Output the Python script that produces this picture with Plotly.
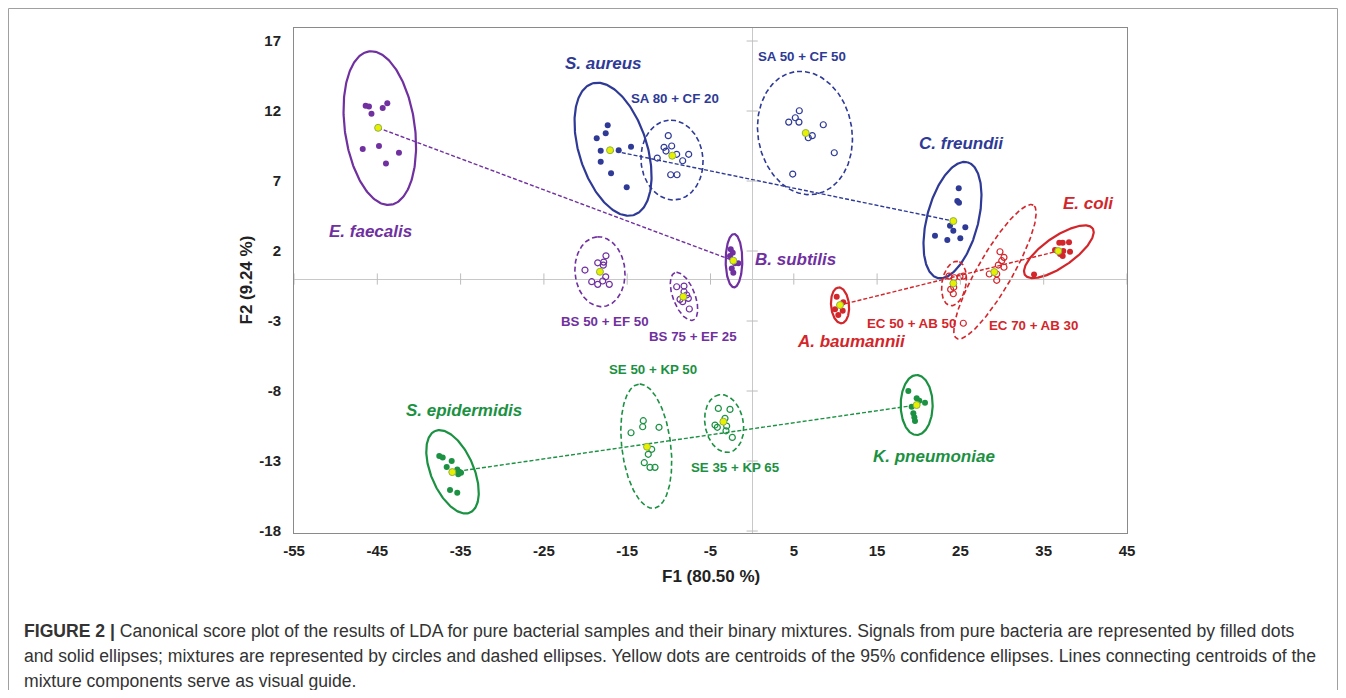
import numpy as np
import plotly.graph_objects as go

# ---------------- data ----------------
PURPLE = "#7030A0"
BLUE = "#2E3A96"
RED = "#D3262B"
GREEN = "#1B9142"
YELLOW = "#E6F000"

# pure bacteria (filled dots, solid ellipses)
EF_X = [-46.4, -46.0, -45.7, -44.35, -43.8, -46.75, -44.8, -42.4, -43.96]
EF_Y = [12.38, 12.33, 11.8, 12.21, 12.55, 9.29, 9.5, 9.02, 8.26]
EF_C = [-44.9, 10.8]
EF_E = [-44.7, 10.78, 9.3, 4.2, 98]

BS_X = [-2.57, -2.33, -2.66, -2.06, -1.66, -2.45, -2.26]
BS_Y = [2.12, 1.88, 1.64, 1.12, 1.12, 0.76, 0.45]
BS_C = [-2.26, 1.31]
BS_E = [-2.18, 1.31, 3.2, 1.0, 90]

SA_X = [-17.34, -17.58, -18.66, -18.18, -16.02, -14.54, -18.18, -16.94, -15.06]
SA_Y = [10.98, 10.41, 10.05, 9.16, 9.2, 9.45, 8.38, 7.55, 6.55]
SA_C = [-17.06, 9.2]
SA_E = [-16.7, 9.27, 8.28, 4.08, 107.6]

CF_X = [24.8, 24.63, 24.83, 23.75, 25.59, 24.15, 21.95, 23.43, 24.99]
CF_Y = [6.48, 5.57, 5.45, 3.81, 3.69, 3.45, 3.09, 2.79, 2.91]
CF_C = [24.15, 4.14]
CF_E = [24.05, 4.21, 7.17, 3.08, 75.5]

AB_X = [10.15, 10.94, 9.95, 10.87, 10.34]
AB_Y = [-1.26, -1.66, -2.16, -2.26, -2.57]
AB_C = [10.55, -1.86]
AB_E = [10.55, -1.88, 2.16, 1.08, 95]

EC_X = [36.87, 37.28, 38.04, 36.36, 37.35, 38.16, 36.96, 37.28, 33.84]
EC_Y = [2.59, 2.59, 2.62, 2.07, 2.0, 1.95, 1.79, 1.64, 0.33]
EC_C = [36.75, 2.0]
EC_E = [36.82, 1.95, 4.93, 1.8, 34.6]

SE_X = [-37.56, -37.15, -36.07, -36.67, -35.4, -35.16, -34.95, -35.28, -36.27, -35.4]
SE_Y = [-12.64, -12.74, -13.0, -13.43, -13.6, -13.76, -13.84, -13.95, -15.07, -15.26]
SE_C = [-36.0, -13.79]
SE_E = [-35.97, -13.77, 5.33, 2.57, 113]

KP_X = [18.75, 19.75, 20.07, 20.75, 19.15, 19.35, 19.47, 19.55]
KP_Y = [-8.0, -8.52, -8.69, -8.84, -9.12, -9.59, -9.88, -10.14]
KP_C = [19.75, -9.0]
KP_E = [19.75, -9.0, 3.6, 1.92, 90]

# binary mixtures (open circles, dashed ellipses)
BS50_X = [-17.55, -18.54, -17.82, -17.87, -20.07, -17.58, -19.26, -18.54, -17.94, -17.15]
BS50_Y = [1.66, 1.16, 1.21, 0.99, 0.64, 0.16, -0.19, -0.38, -0.14, -0.38]
BS50_C = [-18.27, 0.52]
BS50_E = [-18.27, 0.52, 4.2, 3.0, 95]

BS75_X = [-9.06, -8.18, -8.18, -7.86, -8.66, -7.66, -8.34, -7.54]
BS75_Y = [-0.55, -0.5, -0.91, -1.14, -1.45, -1.38, -1.62, -2.14]
BS75_C = [-8.27, -1.26]
BS75_E = [-8.18, -1.24, 3.05, 1.32, 111]

SA80_X = [-10.07, -9.66, -10.58, -10.34, -9.06, -11.39, -7.62, -8.34, -9.78, -9.02]
SA80_Y = [10.24, 9.5, 9.41, 9.14, 8.91, 8.64, 8.91, 8.45, 7.45, 7.45]
SA80_C = [-9.59, 8.81]
SA80_E = [-9.62, 8.5, 4.8, 3.72, 95]

SA50_X = [5.66, 5.18, 4.39, 5.62, 8.54, 6.74, 7.22, 9.86, 4.87]
SA50_Y = [12.02, 11.52, 11.21, 11.21, 11.02, 10.09, 10.24, 9.02, 7.5]
SA50_C = [6.43, 10.43]
SA50_E = [6.34, 10.43, 7.45, 5.64, 100]

EC70_X = [29.75, 30.23, 29.96, 29.55, 30.23, 28.47, 29.36, 29.36, 25.35]
EC70_Y = [1.95, 1.55, 1.31, 1.0, 0.84, 0.36, 0.36, -0.09, -3.16]
EC70_C = [29.07, 0.5]
EC70_E = [29.15, 0.52, 9.23, 2.1, 60.1]

EC50_X = [23.63, 24.27, 24.95, 25.35, 23.83, 24.2, 24.15]
EC50_Y = [0.21, 0.09, 0.16, 0.21, -0.74, -0.59, -1.05]
EC50_C = [24.15, -0.31]
EC50_E = [24.23, -0.32, 2.7, 1.44, 80]

SE50_X = [-13.07, -13.14, -14.54, -11.18, -12.06, -12.47, -12.95, -12.26, -11.66]
SE50_Y = [-10.12, -10.55, -10.98, -10.59, -12.16, -12.52, -13.12, -13.45, -13.45]
SE50_C = [-12.62, -11.98]
SE50_E = [-12.71, -11.94, 7.5, 2.94, 97]

SE35_X = [-4.06, -2.66, -3.26, -4.46, -4.18, -3.06, -3.14, -2.38]
SE35_Y = [-9.24, -9.31, -9.95, -10.43, -10.59, -10.5, -10.84, -11.31]
SE35_C = [-3.46, -10.19]
SE35_E = [-3.36, -10.32, 3.5, 2.3, 100]

# labels: text, x, y, italic-group-name?, colour
LABELS = [
    ("S. aureus", -17.8, 15.43, True, BLUE),
    ("SA 80 + CF 20", -9.26, 12.86, False, BLUE),
    ("SA 50 + CF 50", 5.98, 15.86, False, BLUE),
    ("C. freundii", 25.19, 9.71, True, BLUE),
    ("E. coli", 40.32, 5.43, True, RED),
    ("E. faecalis", -45.76, 3.43, True, PURPLE),
    ("B. subtilis", 5.26, 1.43, True, PURPLE),
    ("BS 50 + EF 50", -17.67, -3.0, False, PURPLE),
    ("BS 75 + EF 25", -7.1, -4.07, False, PURPLE),
    ("EC 50 + AB 50", 19.07, -3.21, False, RED),
    ("EC 70 + AB 30", 33.72, -3.29, False, RED),
    ("A. baumannii", 11.87, -4.43, True, RED),
    ("SE 50 + KP 50", -11.9, -6.43, False, GREEN),
    ("S. epidermidis", -34.6, -9.36, True, GREEN),
    ("SE 35 + KP 65", -1.94, -13.43, False, GREEN),
    ("K. pneumoniae", 21.83, -12.71, True, GREEN),
]

X_TICKS = [-55, -45, -35, -25, -15, -5, 5, 15, 25, 35, 45]
Y_TICKS = [17, 12, 7, 2, -3, -8, -13, -18]
X_RANGE = [-55, 45]
Y_RANGE = [-18.14, 17.93]
X_TITLE = "F1 (80.50 %)"
Y_TITLE = "F2 (9.24 %)"
CAPTION = [
    "<b>FIGURE 2 |</b> Canonical score plot of the results of LDA for pure bacterial samples and their binary mixtures. Signals from pure bacteria are represented by filled dots",
    "and solid ellipses; mixtures are represented by circles and dashed ellipses. Yellow dots are centroids of the 95% confidence ellipses. Lines connecting centroids of the",
    "mixture components serve as visual guide.",
]

# ---------------- layout geometry (page = figure + 8px body margin) ----------------
PAD = 8
W, H = 1346 - 2 * PAD, 698 - 2 * PAD
PW, PH = 833, 505
ML, MT = 294 - PAD, 28 - PAD
MR, MB = W - ML - PW, H - MT - PH
K = (PH / (Y_RANGE[1] - Y_RANGE[0])) / (PW / (X_RANGE[1] - X_RANGE[0]))


def px_x(page_x):
    return (page_x - PAD - ML) / PW


def px_y(page_y):
    return (MT + PH - (page_y - PAD)) / PH


def ellipse(cx, cy, a, b, ang):
    t = np.linspace(0, 2 * np.pi, 241)
    th = np.radians(ang)
    ex = cx + a * np.cos(th) * np.cos(t) - b * np.sin(th) * np.sin(t)
    ey = cy + (a * np.sin(th) * np.cos(t) + b * np.cos(th) * np.sin(t)) / K
    return ex, ey


fig = go.Figure()

# connecting dashed guide lines between pure-component centroids
for c1, c2, col in [(EF_C, BS_C, PURPLE), (SA_C, CF_C, BLUE), (AB_C, EC_C, RED), (SE_C, KP_C, GREEN)]:
    fig.add_trace(go.Scatter(x=[c1[0], c2[0]], y=[c1[1], c2[1]], mode="lines",
                             line=dict(color=col, width=1.4, dash="4px,2px"), hoverinfo="skip"))

groups = [
    (EF_X, EF_Y, EF_C, EF_E, PURPLE, True),
    (BS_X, BS_Y, BS_C, BS_E, PURPLE, True),
    (SA_X, SA_Y, SA_C, SA_E, BLUE, True),
    (CF_X, CF_Y, CF_C, CF_E, BLUE, True),
    (AB_X, AB_Y, AB_C, AB_E, RED, True),
    (EC_X, EC_Y, EC_C, EC_E, RED, True),
    (SE_X, SE_Y, SE_C, SE_E, GREEN, True),
    (KP_X, KP_Y, KP_C, KP_E, GREEN, True),
    (BS50_X, BS50_Y, BS50_C, BS50_E, PURPLE, False),
    (BS75_X, BS75_Y, BS75_C, BS75_E, PURPLE, False),
    (SA80_X, SA80_Y, SA80_C, SA80_E, BLUE, False),
    (SA50_X, SA50_Y, SA50_C, SA50_E, BLUE, False),
    (EC70_X, EC70_Y, EC70_C, EC70_E, RED, False),
    (EC50_X, EC50_Y, EC50_C, EC50_E, RED, False),
    (SE50_X, SE50_Y, SE50_C, SE50_E, GREEN, False),
    (SE35_X, SE35_Y, SE35_C, SE35_E, GREEN, False),
]

for gx, gy, gc, ge, col, pure in groups:
    ex, ey = ellipse(*ge)
    fig.add_trace(go.Scatter(x=ex, y=ey, mode="lines",
                             line=dict(color=col, width=2.2 if pure else 1.6,
                                       dash="solid" if pure else "5px,3px"),
                             hoverinfo="skip"))
    if pure:
        mk = dict(symbol="circle", size=6, color=col, line=dict(width=0))
    else:
        mk = dict(symbol="circle-open", size=6, color=col, line=dict(width=1.2))
    fig.add_trace(go.Scatter(x=gx, y=gy, mode="markers", marker=mk))
    fig.add_trace(go.Scatter(x=[gc[0]], y=[gc[1]], mode="markers",
                             marker=dict(symbol="circle", size=7, color=YELLOW,
                                         line=dict(color="#8FB04A", width=1))))

# small tick marks on the zero lines
fig.add_trace(go.Scatter(x=X_TICKS, y=[0] * len(X_TICKS), mode="markers", hoverinfo="skip",
                         marker=dict(symbol="line-ns", size=8, line=dict(color="#BDBDBD", width=1))))
fig.add_trace(go.Scatter(x=[0] * len(Y_TICKS), y=Y_TICKS, mode="markers", hoverinfo="skip",
                         marker=dict(symbol="line-ew", size=8, line=dict(color="#BDBDBD", width=1))))

FONT = "Liberation Sans, Arial, sans-serif"
NARROW = "Liberation Sans Narrow, Arial Narrow, Liberation Sans, sans-serif"
ann = []
for txt, lx, ly, italic, col in LABELS:
    t = f"<b><i>{txt}</i></b>" if italic else f"<b>{txt}</b>"
    ann.append(dict(x=lx, y=ly, xref="x", yref="y", text=t, showarrow=False,
                    font=dict(family=FONT, size=17 if italic else 13.3, color=col),
                    xanchor="center", yanchor="middle"))

ann.append(dict(x=0.5, y=px_y(576), xref="paper", yref="paper",
                text=f"<b>{X_TITLE}</b>", showarrow=False,
                font=dict(family=FONT, size=17, color="#222222"), xanchor="center", yanchor="middle"))
ann.append(dict(x=px_x(246), y=0.5, xref="paper", yref="paper", text=f"<b>{Y_TITLE}</b>",
                showarrow=False, textangle=-90,
                font=dict(family=FONT, size=17, color="#222222"), xanchor="center", yanchor="middle"))

for i, line in enumerate(CAPTION):
    ann.append(dict(x=px_x(22), y=px_y(631 + 25 * i), xref="paper", yref="paper",
                    text=line, showarrow=False, align="left",
                    font=dict(family=FONT, size=17.6, color="#333333"),
                    xanchor="left", yanchor="middle"))

shapes = [dict(type="rect", xref="paper", yref="paper",
               x0=px_x(8.5), x1=px_x(1337.5), y0=px_y(740), y1=px_y(8.5),
               line=dict(color="#A0A0A0", width=1), fillcolor="rgba(0,0,0,0)", layer="below")]

axis_common = dict(showgrid=False, showline=True, mirror=True, linecolor="#8A8A8A", linewidth=1,
                   zeroline=True, zerolinecolor="#C8C8C8", zerolinewidth=1,
                   ticks="outside", tickcolor="rgba(0,0,0,0)",
                   tickfont=dict(family=NARROW, size=15, color="#222222", weight="bold"))

fig.update_layout(
    width=W, height=H, margin=dict(l=ML, r=MR, t=MT, b=MB, pad=0),
    paper_bgcolor="white", plot_bgcolor="white", showlegend=False,
    xaxis=dict(range=X_RANGE, tickvals=X_TICKS, ticktext=[str(v) for v in X_TICKS],
               ticklen=4, **axis_common),
    yaxis=dict(range=Y_RANGE, tickvals=Y_TICKS, ticktext=[str(v) for v in Y_TICKS],
               ticklen=9, **axis_common),
    annotations=ann, shapes=shapes,
)

fig.write_html("out.html")
